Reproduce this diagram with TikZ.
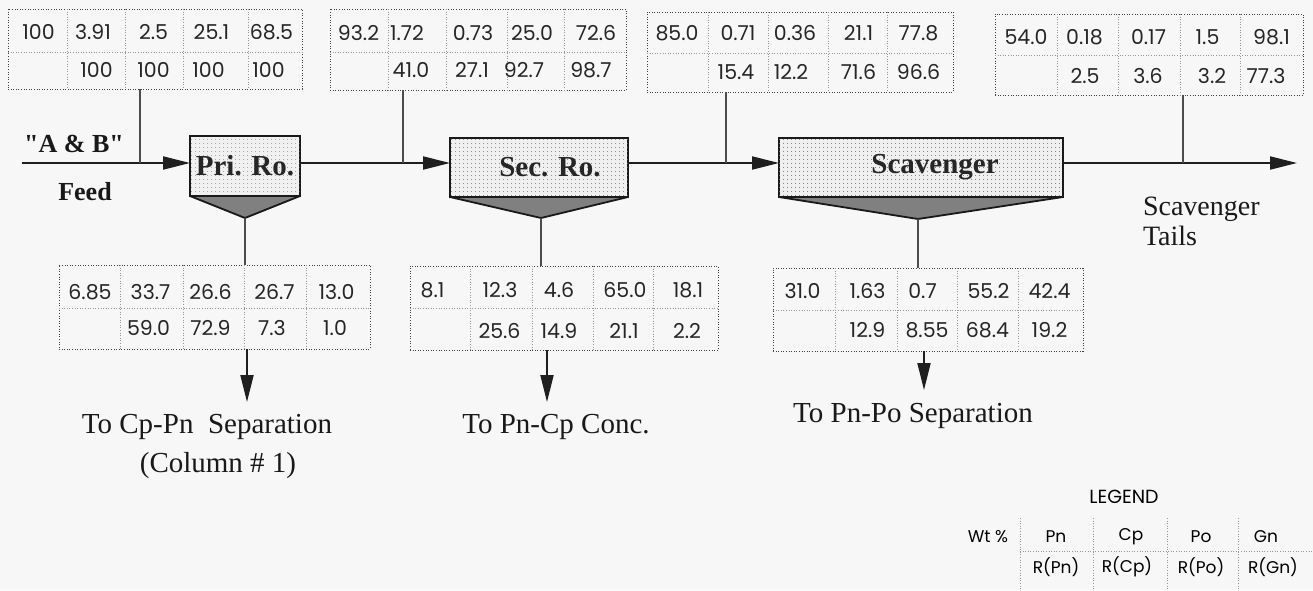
\documentclass[tikz,border=0pt]{standalone}
\usepackage{fontspec}
\setmainfont{Liberation Serif}
\newfontfamily\numfont{Poppins}
\usetikzlibrary{arrows.meta,patterns.meta}
\tikzset{
  every node/.style={inner sep=0pt, outer sep=0pt},
  tabbox/.style={draw=black!75, line width=1pt, dash pattern=on 1pt off 1.6pt, rectangle, anchor=north west},
  cellline/.style={draw=black!40, line width=0.8pt, dash pattern=on 1pt off 1.6pt},
  num/.style={font=\numfont\fontsize{20.5}{20.5}\selectfont, text=black!85},
  flow/.style={draw=black!88, line width=2pt},
  flowarrow/.style={flow, -{Triangle[length=27pt,width=13pt]}},
  link/.style={draw=black!70, line width=1.4pt},
  unit/.style={draw=black!90, line width=2.2pt, fill=black!6, postaction={pattern={Dots[distance=4pt,radius=0.6pt]}, pattern color=black!55}, minimum height=60pt, anchor=north west, font=\fontsize{29}{29}\selectfont\bfseries, text=black!85},
  hopper/.style={draw=black!90, line width=1.8pt, fill=black!50, line join=round},
  lab/.style={font=\fontsize{29}{29}\selectfont, text=black!90, anchor=base},
  boldlab/.style={lab, font=\fontsize{26}{26}\selectfont\bfseries},
  legtitle/.style={font=\numfont\fontsize{19}{19}\selectfont},
  legtext/.style={font=\numfont\fontsize{17}{17}\selectfont},
}
\newcommand\flowtab[7]{%
  \node[tabbox, minimum width={(#4-#2)*1pt}, minimum height={(#6-#3)*1pt}] (#1) at (#2,#3) {};
  \foreach \xx in {#7} {\draw[cellline] (\xx,#3) -- (\xx,#6);}
  \draw[cellline] (#2,#5) -- (#4,#5);
}
\begin{document}
\begin{tikzpicture}[x=1pt,y=-1pt]
\useasboundingbox (0,0) rectangle (1313,590);
\fill[black!3] (0,0) rectangle (1313,590);

% ---------- top tables ----------
\flowtab{t1}{8}{9}{302}{52}{89}{67,125,183,248}
\foreach \cx/\v [count=\i] in {38.5/100,93/3.91,153.5/2.5,211.5/25.1,271.5/68.5} \node[num] (t1a\i) at (\cx,32) {\v};
\foreach \cx/\v [count=\i] in {96.5/100,153.5/100,208.5/100,268.5/100} \node[num] (t1b\i) at (\cx,70) {\v};

\flowtab{t2}{330}{9}{626}{52}{90}{388,446,507,564}
\foreach \cx/\v [count=\i] in {358.5/93.2,407/1.72,473/0.73,532/25.0,596/72.6} \node[num] (t2a\i) at (\cx,33) {\v};
\foreach \cx/\v [count=\i] in {411/41.0,472/27.1,524/92.7,591/98.7} \node[num] (t2b\i) at (\cx,70) {\v};

\flowtab{t3}{647}{12}{953}{53}{92}{708,768,828,887}
\foreach \cx/\v [count=\i] in {677/85.0,738/0.71,795/0.36,858.5/21.1,918.5/77.8} \node[num] (t3a\i) at (\cx,33) {\v};
\foreach \cx/\v [count=\i] in {736/15.4,791/12.2,858.5/71.6,918.5/96.6} \node[num] (t3b\i) at (\cx,72) {\v};

\flowtab{t4}{995}{14}{1303}{55}{95}{1057,1118,1180,1240}
\foreach \cx/\v [count=\i] in {1026/54.0,1084.5/0.18,1148.5/0.17,1207.5/1.5,1271.5/98.1} \node[num] (t4a\i) at (\cx,37) {\v};
\foreach \cx/\v [count=\i] in {1085/2.5,1148/3.6,1212/3.2,1266/77.3} \node[num] (t4b\i) at (\cx,76) {\v};

% ---------- bottom tables ----------
\flowtab{b1}{59}{265}{370}{308}{349}{120,183,244,306}
\foreach \cx/\v [count=\i] in {90/6.85,150.5/33.7,210.5/26.6,274.5/26.7,336.5/13.0} \node[num] (b1a\i) at (\cx,292) {\v};
\foreach \cx/\v [count=\i] in {148.5/59.0,210.5/72.9,272/7.3,335/1.0} \node[num] (b1b\i) at (\cx,328) {\v};

\flowtab{b2}{410}{266}{718}{308}{350}{470,532,593,653}
\foreach \cx/\v [count=\i] in {432.5/8.1,500/12.3,559/4.6,625/65.0,688/18.1} \node[num] (b2a\i) at (\cx,290) {\v};
\foreach \cx/\v [count=\i] in {499.5/25.6,559/14.9,624/21.1,687/2.2} \node[num] (b2b\i) at (\cx,331) {\v};

\flowtab{b3}{773}{268}{1083}{310}{351}{835,897,957,1018}
\foreach \cx/\v [count=\i] in {802.5/31.0,867.5/1.63,922.5/0.7,988.5/55.2,1049.5/42.4} \node[num] (b3a\i) at (\cx,291) {\v};
\foreach \cx/\v [count=\i] in {867.5/12.9,927/8.55,987.5/68.4,1049.5/19.2} \node[num] (b3b\i) at (\cx,330) {\v};

% ---------- units ----------
\node[unit, minimum width=110pt] (pri) at (190,136) {Pri. Ro.};
\node[unit, minimum width=178pt, minimum height=59pt] (sec) at (450,138) {\hspace*{22pt}Sec. Ro.};
\node[unit, minimum width=284pt, minimum height=59pt] (scav) at (779,138) {\hspace*{28pt}Scavenger};
\coordinate (pritip) at (245,218);
\coordinate (sectip) at (541,218);
\coordinate (scavtip) at (918,219);
\draw[hopper] (pri.south west) -- (pritip) -- (pri.south east) -- cycle;
\draw[hopper] (sec.south west) -- (sectip) -- (sec.south east) -- cycle;
\draw[hopper] (scav.south west) -- (scavtip) -- (scav.south east) -- cycle;

% ---------- main flow ----------
\coordinate (feedin) at (22,163);
\coordinate (tailsend) at (1297,163);
\draw[flowarrow] (feedin) -- (feedin -| pri.west);
\draw[flowarrow] (feedin -| pri.east) -- (feedin -| sec.west);
\draw[flowarrow] (feedin -| sec.east) -- (feedin -| scav.west);
\draw[flowarrow] (feedin -| scav.east) -- (tailsend);

% ---------- sampling links ----------
\coordinate (j1) at (140,163);
\coordinate (j2) at (403,163);
\coordinate (j3) at (726,163);
\coordinate (j4) at (1183,163);
\draw[link] (j1 |- t1.south) -- (j1);
\draw[link] (j2 |- t2.south) -- (j2);
\draw[link] (j3 |- t3.south) -- (j3);
\draw[link] (j4 |- t4.south) -- (j4);
\draw[link] (pritip) -- (pritip |- b1.north);
\draw[link] (sectip) -- (sectip |- b2.north);
\draw[link] (scavtip) -- (scavtip |- b3.north);

% ---------- outlets ----------
\coordinate (o1) at (247,402);
\coordinate (o2) at (547,402);
\coordinate (o3) at (924,390);
\draw[flowarrow] (o1 |- b1.south) -- (o1);
\draw[flowarrow] (o2 |- b2.south) -- (o2);
\draw[flowarrow] (o3 |- b3.south) -- (o3);

% ---------- labels ----------
\node[boldlab] (ab) at (74,152) {\addfontfeature{Ligatures=TeXOff}"A \& B"};
\node[boldlab] (feed) at (85,200) {Feed};
\node[lab, font=\fontsize{28}{28}\selectfont, anchor=base west] (tails1) at (1143,215) {Scavenger};
\node[lab, font=\fontsize{28}{28}\selectfont, anchor=base west] (tails2) at (1143,245) {Tails};
\node[lab] (dest1) at (207,433) {To Cp-Pn\ \ Separation};
\node[lab] (dest1b) at (218,472) {(Column \# 1)};
\node[lab] (dest2) at (556,433) {To Pn-Cp Conc.};
\node[lab] (dest3) at (913,422) {To Pn-Po Separation};

% ---------- legend ----------
\node[legtitle] (legend) at (1124,497) {LEGEND};
\foreach \xx in {1020,1093,1167,1238} {\draw[cellline] (\xx,518) -- (\xx,590);}
\coordinate (legl) at (1020,551);
\coordinate (legr) at (1313,551);
\draw[cellline] (legl) -- (legr);
\foreach \cx/\v [count=\i] in {988/Wt \%,1056/Pn,1131/Cp,1201/Po,1266/Gn} \node[legtext] (lga\i) at (\cx,537) {\v};
\foreach \cx/\v [count=\i] in {1056/R(Pn),1127/R(Cp),1201/R(Po),1273/R(Gn)} \node[legtext] (lgb\i) at (\cx,567) {\v};
\end{tikzpicture}
\end{document}
